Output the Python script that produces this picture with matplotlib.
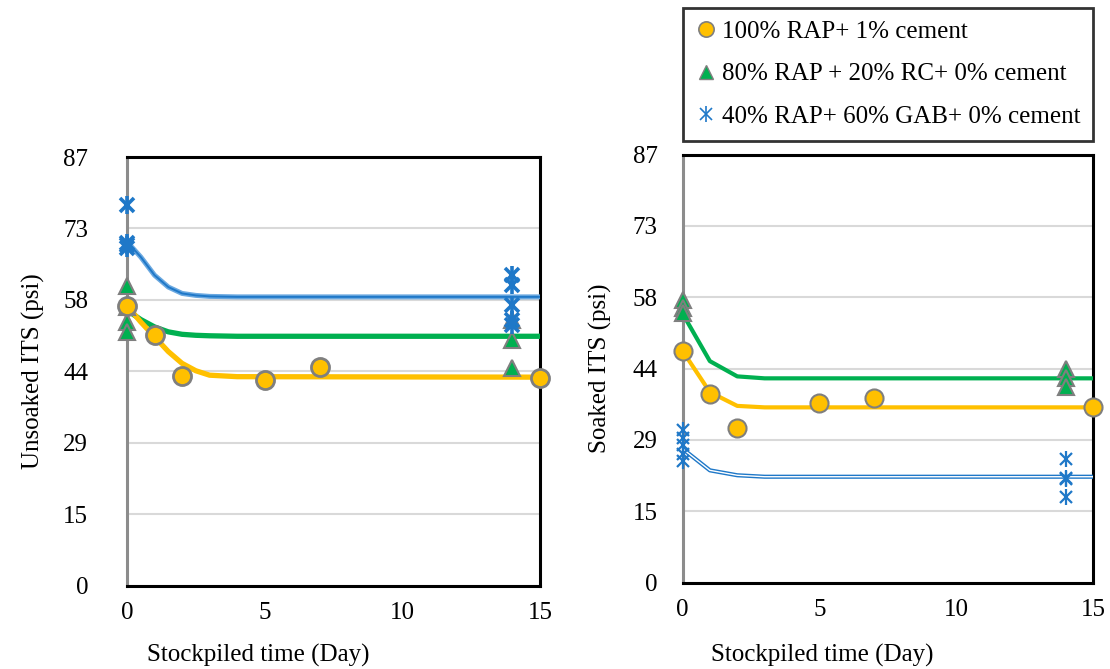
import matplotlib
matplotlib.use("Agg")
import matplotlib.pyplot as plt
from matplotlib.lines import Line2D
from matplotlib.legend_handler import HandlerTuple

plt.rcParams['font.family'] = ['Liberation Serif', 'DejaVu Serif']

# ---- data (psi) ----
series_labels = ["100% RAP+ 1% cement",
                 "80% RAP + 20% RC+ 0% cement",
                 "40% RAP+ 60% GAB+ 0% cement"]

# Unsoaked ITS measurements
uns_rap_x = [0, 1, 2, 5, 7, 15]
uns_rap_y = [56.8, 50.9, 42.6, 41.7, 44.3, 42.1]
uns_rc_x = [0, 0, 0, 0, 14, 14, 14]
uns_rc_y = [60.8, 56.6, 53.5, 51.5, 53.9, 49.8, 44.1]
uns_gab_x = [0, 0, 0, 0, 14, 14, 14, 14, 14]
uns_gab_y = [77.2, 69.5, 69.1, 68.5, 63.0, 61.0, 56.9, 53.9, 52.9]

# Unsoaked trend curves
uns_fit_x = [0, 0.5, 1, 1.5, 2, 2.5, 3, 4, 15]
uns_fit_rap = [56.8, 53.5, 50.5, 47.5, 45.1, 43.6, 42.7, 42.4, 42.3]
uns_fit_rc = [55.9, 54.0, 52.5, 51.5, 51.0, 50.8, 50.7, 50.6, 50.6]
uns_fit_gab = [69.8, 66.7, 63.0, 60.6, 59.3, 58.9, 58.7, 58.6, 58.6]

# Soaked ITS measurements
soa_rap_x = [0, 1, 2, 5, 7, 15]
soa_rap_y = [47.1, 38.4, 31.5, 36.4, 37.5, 35.6]
soa_rc_x = [0, 0, 0, 14, 14, 14]
soa_rc_y = [57.5, 55.7, 54.7, 43.5, 41.5, 39.8]
soa_gab_x = [0, 0, 0, 0, 0, 14, 14, 14, 14]
soa_gab_y = [31.0, 29.3, 27.9, 26.2, 24.7, 25.2, 21.2, 21.0, 17.4]

# Soaked trend lines
soa_fit_x = [0, 1, 2, 3, 15]
soa_fit_rap = [47.1, 38.7, 35.9, 35.6, 35.6]
soa_fit_rc = [54.7, 45.0, 41.9, 41.5, 41.5]
soa_fit_gab = [27.2, 22.8, 21.8, 21.5, 21.5]

# y ticks: 0-600 kPa shown in psi
ytick_vals = [0, 14.5, 29, 43.5, 58, 72.5, 87]
ytick_labels = ["0", "15", "29", "44", "58", "73", "87"]
xtick_vals = [0, 5, 10, 15]

YEL = "#ffc000"
GRN = "#00b050"
BLU = "#1f78c8"
BLU_L = "#6aa8e0"
EDGE = "#7f7f7f"
FS = 18

fig = plt.figure(figsize=(11.1, 6.69), dpi=100)
W, H = 1110, 669

def axes_box(l, t, r, b):
    return [l / W, 1 - b / H, (r - l) / W, (b - t) / H]

ax1 = fig.add_axes(axes_box(127, 157, 540, 585.5))
ax2 = fig.add_axes(axes_box(682.5, 154.5, 1093, 582.5))


def style_axes(ax, ypad):
    ax.set_xlim(0, 15)
    ax.set_ylim(0, 87)
    ax.set_yticks(ytick_vals)
    ax.set_yticklabels(ytick_labels)
    ax.set_xticks(xtick_vals)
    ax.tick_params(axis='both', length=0, labelsize=FS)
    ax.tick_params(axis='y', pad=ypad)
    ax.tick_params(axis='x', pad=12)
    ax.grid(axis='y', color="#d9d9d9", linewidth=1.5, zorder=0)
    ax.set_axisbelow(True)
    for side in ["top", "right", "bottom"]:
        ax.spines[side].set_color("black")
        ax.spines[side].set_linewidth(2.2)
    ax.spines["left"].set_color("#8c8c8c")
    ax.spines["left"].set_linewidth(2.2)


def asterisk(ax, x, y, size=11, mew=2.2):
    ax.plot(x, y, linestyle='none', marker='x', color=BLU, markersize=size * 0.8,
            markeredgewidth=mew, zorder=6, clip_on=False)
    ax.plot(x, y, linestyle='none', marker='|', color=BLU, markersize=size * 1.1,
            markeredgewidth=mew, zorder=6, clip_on=False)


# ---- unsoaked panel ----
style_axes(ax1, 28)
ax1.plot(uns_fit_x, uns_fit_gab, color=BLU_L, linewidth=3.6, zorder=3, solid_capstyle='round')
ax1.plot(uns_fit_x, uns_fit_gab, color=BLU, linewidth=1.4, zorder=3)
ax1.plot(uns_fit_x, uns_fit_rc, color=GRN, linewidth=3.8, zorder=3)
ax1.plot(uns_fit_x, uns_fit_rap, color=YEL, linewidth=3.8, zorder=3)
ax1.plot(uns_rc_x, uns_rc_y, linestyle='none', marker='^', markersize=12,
         markerfacecolor=GRN, markeredgecolor=EDGE, markeredgewidth=1.5, zorder=5, clip_on=False)
asterisk(ax1, uns_gab_x, uns_gab_y, size=12, mew=2.6)
ax1.plot(uns_rap_x, uns_rap_y, linestyle='none', marker='o', markersize=13,
         markerfacecolor=YEL, markeredgecolor=EDGE, markeredgewidth=2, zorder=7, clip_on=False)
ax1.set_ylabel("Unsoaked ITS (psi)", fontsize=FS, labelpad=13)

# ---- soaked panel ----
style_axes(ax2, 18)
ax2.plot(soa_fit_x, soa_fit_rc, color=GRN, linewidth=3, zorder=3)
ax2.plot(soa_fit_x, soa_fit_rap, color=YEL, linewidth=3, zorder=3)
ax2.plot(soa_fit_x, soa_fit_gab, color=BLU, linewidth=3, zorder=3)
ax2.plot(soa_fit_x, soa_fit_gab, color="white", linewidth=1, zorder=3)
ax2.plot(soa_rc_x, soa_rc_y, linestyle='none', marker='^', markersize=12,
         markerfacecolor=GRN, markeredgecolor=EDGE, markeredgewidth=1.5, zorder=5, clip_on=False)
asterisk(ax2, soa_gab_x, soa_gab_y, size=11, mew=1.6)
ax2.plot(soa_rap_x, soa_rap_y, linestyle='none', marker='o', markersize=13,
         markerfacecolor=YEL, markeredgecolor=EDGE, markeredgewidth=1.5, zorder=7, clip_on=False)
ax2.set_ylabel("Soaked ITS (psi)", fontsize=FS, labelpad=15)

# x-axis titles
fig.text(258 / W, 1 - 655 / H, "Stockpiled time (Day)", fontsize=FS, ha='center', va='center')
fig.text(822 / W, 1 - 655 / H, "Stockpiled time (Day)", fontsize=FS, ha='center', va='center')

# ---- legend ----
h_rap = Line2D([], [], linestyle='none', marker='o', markersize=11,
               markerfacecolor=YEL, markeredgecolor=EDGE, markeredgewidth=1.2)
h_rc = Line2D([], [], linestyle='none', marker='^', markersize=10,
              markerfacecolor=GRN, markeredgecolor=EDGE, markeredgewidth=1.0)
h_gx = Line2D([], [], linestyle='none', marker='x', markersize=9, color=BLU, markeredgewidth=1.2)
h_gv = Line2D([], [], linestyle='none', marker='|', markersize=12, color=BLU, markeredgewidth=1.2)
leg = fig.legend([h_rap, h_rc, (h_gx, h_gv)], series_labels,
                 handler_map={tuple: HandlerTuple(ndivide=1)},
                 loc='upper left', bbox_to_anchor=(683 / W, 1 - 8 / H),
                 fontsize=18, frameon=True, fancybox=False, edgecolor='black',
                 handlelength=0.8, handletextpad=0.25, labelspacing=0.8,
                 borderpad=0.5, borderaxespad=0)
leg.get_frame().set_linewidth(2)

fig.savefig("out.png", dpi=100, facecolor="white")
